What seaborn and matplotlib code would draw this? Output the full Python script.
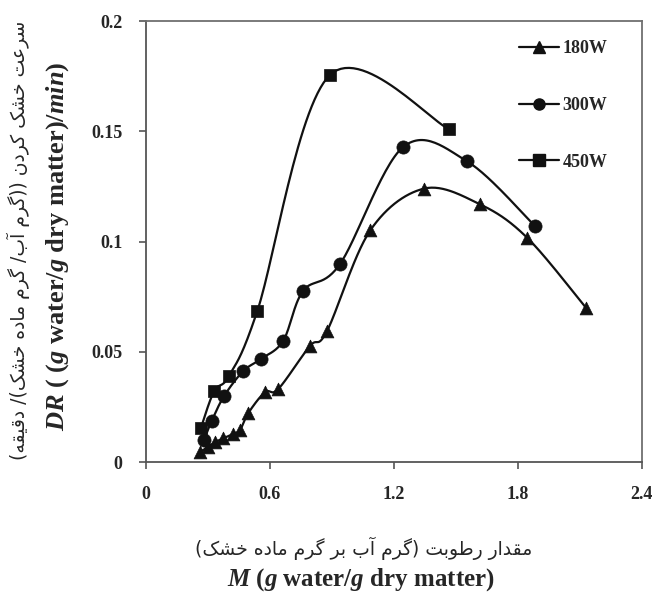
import numpy as np
import pandas as pd
import matplotlib
matplotlib.use("Agg")
import matplotlib.pyplot as plt
from matplotlib.lines import Line2D
import seaborn as sns

# ---------------- data ----------------
M_180 = [0.261, 0.300, 0.334, 0.373, 0.421, 0.455, 0.495, 0.576, 0.640, 0.793, 0.876, 1.085, 1.346, 1.616, 1.845, 2.129]
DR_180 = [0.0045, 0.0068, 0.0090, 0.0107, 0.0127, 0.0145, 0.0222, 0.0317, 0.0331, 0.0526, 0.0594, 0.1050, 0.1240, 0.1169, 0.1017, 0.0700]

M_300 = [0.281, 0.318, 0.379, 0.471, 0.556, 0.664, 0.760, 0.939, 1.245, 1.555, 1.883]
DR_300 = [0.0100, 0.0187, 0.0301, 0.0413, 0.0467, 0.0550, 0.0776, 0.0898, 0.1429, 0.1363, 0.1070]

M_450 = [0.265, 0.330, 0.402, 0.539, 0.890, 1.466]
DR_450 = [0.0153, 0.0322, 0.0391, 0.0686, 0.1755, 0.1510]

series_labels = ["180W", "300W", "450W"]
x_ticks = [0, 0.6, 1.2, 1.8, 2.4]
x_tick_labels = ["0", "0.6", "1.2", "1.8", "2.4"]
y_ticks = [0, 0.05, 0.1, 0.15, 0.2]
y_tick_labels = ["0", "0.05", "0.1", "0.15", "0.2"]

xlabel_fa = "مقدار رطوبت (گرم آب بر گرم ماده خشک)"
ylabel_fa = "سرعت خشک کردن ((گرم آب/ گرم ماده خشک)/ دقیقه)"

# ------------- simple Persian shaping (visual order) -------------
FORMS = {
    "\u0627": (0xFE8D, 0xFE8E, None, None),
    "\u0622": (0xFE81, 0xFE82, None, None),
    "\u0628": (0xFE8F, 0xFE90, 0xFE91, 0xFE92),
    "\u062A": (0xFE95, 0xFE96, 0xFE97, 0xFE98),
    "\u062E": (0xFEA5, 0xFEA6, 0xFEA7, 0xFEA8),
    "\u062F": (0xFEA9, 0xFEAA, None, None),
    "\u0631": (0xFEAD, 0xFEAE, None, None),
    "\u0633": (0xFEB1, 0xFEB2, 0xFEB3, 0xFEB4),
    "\u0634": (0xFEB5, 0xFEB6, 0xFEB7, 0xFEB8),
    "\u0637": (0xFEC1, 0xFEC2, 0xFEC3, 0xFEC4),
    "\u0639": (0xFEC9, 0xFECA, 0xFECB, 0xFECC),
    "\u0642": (0xFED5, 0xFED6, 0xFED7, 0xFED8),
    "\u0645": (0xFEE1, 0xFEE2, 0xFEE3, 0xFEE4),
    "\u0646": (0xFEE5, 0xFEE6, 0xFEE7, 0xFEE8),
    "\u0647": (0xFEE9, 0xFEEA, 0xFEEB, 0xFEEC),
    "\u0648": (0xFEED, 0xFEEE, None, None),
    "\u06A9": (0xFB8E, 0xFB8F, 0xFB90, 0xFB91),
    "\u06AF": (0xFB92, 0xFB93, 0xFB94, 0xFB95),
    "\u06CC": (0xFBFC, 0xFBFD, 0xFBFE, 0xFBFF),
}
MIRROR = {"(": ")", ")": "("}


def shape_fa(text):
    out = []
    n = len(text)
    for i, ch in enumerate(text):
        if ch not in FORMS:
            out.append(ch)
            continue
        iso, fin, ini, med = FORMS[ch]
        prev = text[i - 1] if i > 0 else None
        nxt = text[i + 1] if i + 1 < n else None
        jp = prev in FORMS and FORMS[prev][2] is not None
        jn = ini is not None and nxt in FORMS
        if jp and jn:
            code = med
        elif jp:
            code = fin
        elif jn:
            code = ini
        else:
            code = iso
        out.append(chr(code))
    return "".join(MIRROR.get(c, c) for c in reversed(out))


# ---------------- smoothing (Excel-like bezier) ----------------
def smooth(xs, ys, n=30):
    p = np.column_stack([xs, ys]).astype(float)
    pts = []
    for i in range(len(p) - 1):
        p0 = p[i - 1] if i > 0 else p[i]
        p1 = p[i]
        p2 = p[i + 1]
        p3 = p[i + 2] if i + 2 < len(p) else p[i + 1]
        c1 = p1 + (p2 - p0) / 6.0
        c2 = p2 - (p3 - p1) / 6.0
        t = np.linspace(0, 1, n, endpoint=(i == len(p) - 2))[:, None]
        b = (1 - t) ** 3 * p1 + 3 * (1 - t) ** 2 * t * c1 + 3 * (1 - t) * t ** 2 * c2 + t ** 3 * p2
        pts.append(b)
    b = np.vstack(pts)
    return b[:, 0], b[:, 1]


# ---------------- styling ----------------
sns.set_style("ticks")
plt.rcParams["font.family"] = ["Liberation Serif", "DejaVu Sans"]
plt.rcParams["mathtext.fontset"] = "custom"
plt.rcParams["mathtext.it"] = "Liberation Serif:italic:bold"
plt.rcParams["mathtext.rm"] = "Liberation Serif:bold"
plt.rcParams["mathtext.bf"] = "Liberation Serif:bold"

fig = plt.figure(figsize=(6.59, 5.95), dpi=100)
ax = fig.add_axes([0.2216, 0.2235, 0.7524, 0.7412])

black = "#111111"
series = [
    (M_180, DR_180, "^", 85),
    (M_300, DR_300, "o", 90),
    (M_450, DR_450, "s", 75),
]
for (mx, dy, mk, sz), lab in zip(series, series_labels):
    sx, sy = smooth(mx, dy)
    df_line = pd.DataFrame({"M": sx, "DR": sy})
    sns.lineplot(data=df_line, x="M", y="DR", sort=False, estimator=None,
                 color=black, lw=1.6, ax=ax, legend=False)
    df_pts = pd.DataFrame({"M": mx, "DR": dy})
    sns.scatterplot(data=df_pts, x="M", y="DR", marker=mk, s=sz, color=black,
                    edgecolor=black, linewidth=0.5, ax=ax, zorder=3, legend=False)

ax.set_xlim(0, 2.4)
ax.set_ylim(0, 0.2)
ax.set_xticks(x_ticks)
ax.set_xticklabels(x_tick_labels)
ax.set_yticks(y_ticks)
ax.set_yticklabels(y_tick_labels)
ax.tick_params(axis="both", direction="out", length=5, width=1.2, color="#555555",
               labelsize=13, pad=12)
for lbl in ax.get_xticklabels() + ax.get_yticklabels():
    lbl.set_fontweight("bold")
    lbl.set_family("Liberation Serif")
for s in ["left", "bottom"]:
    ax.spines[s].set_color("#555555")
    ax.spines[s].set_linewidth(1.3)
for s in ["top", "right"]:
    ax.spines[s].set_visible(True)
    ax.spines[s].set_color("#707070")
    ax.spines[s].set_linewidth(1.3)
ax.set_xlabel("")
ax.set_ylabel("")

# legend
handles = [
    Line2D([], [], color=black, lw=1.6, marker=m, markersize=8, markerfacecolor=black, markeredgecolor=black)
    for m in ["^", "o", "s"]
]
leg = ax.legend(handles, series_labels, loc="upper left", bbox_to_anchor=(0.72, 0.993),
                frameon=False, handlelength=2.2, labelspacing=2.2, handletextpad=0.2,
                prop={"family": "Liberation Serif", "weight": "bold", "size": 13})

# axis titles
fig.text(364 / 659, 1 - 548 / 595, shape_fa(xlabel_fa), ha="center", va="center",
         fontsize=13.5, family="DejaVu Sans")
fig.text(361 / 659, 1 - 580 / 595,
         r"$M$ ($g$ water/$g$ dry matter)", ha="center", va="center",
         fontsize=18, fontweight="bold")
fig.text(18 / 659, 1 - 240 / 595, shape_fa(ylabel_fa), ha="center", va="center",
         rotation=90, fontsize=13.5, family="DejaVu Sans")
fig.text(58 / 659, 1 - 246 / 595,
         r"$DR$ ( ($g$ water/$g$ dry matter)/$min$)", ha="center", va="center",
         rotation=90, fontsize=19, fontweight="bold")

fig.savefig("out.png", dpi=100)
